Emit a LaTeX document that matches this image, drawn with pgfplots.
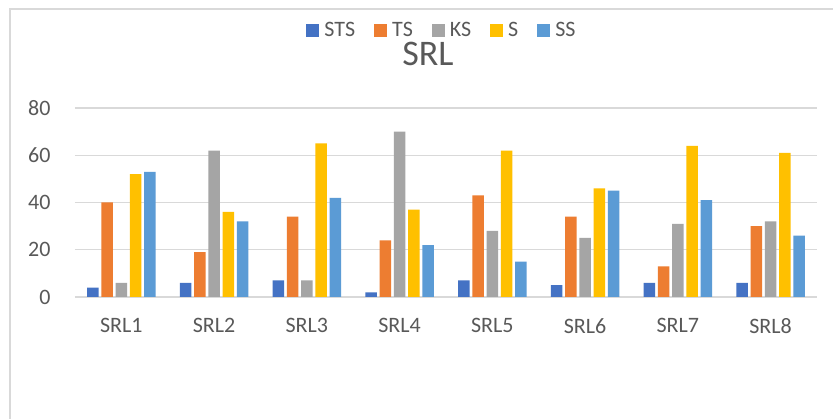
\documentclass[border=0pt]{standalone}
\usepackage{fontspec}
\setmainfont{Carlito}
\usepackage{pgfplots}
\pgfplotsset{compat=1.18}

\definecolor{cSTS}{HTML}{4472C4}
\definecolor{cTS}{HTML}{ED7D31}
\definecolor{cKS}{HTML}{A5A5A5}
\definecolor{cS}{HTML}{FFC000}
\definecolor{cSS}{HTML}{5B9BD5}
\definecolor{txt}{HTML}{595959}
\definecolor{gridc}{HTML}{D9D9D9}

\begin{document}
\begin{tikzpicture}
% canvas: 833 x 419, origin at the lower left of the plot area
\useasboundingbox (-75pt,-122pt) rectangle (758pt,297pt);
\fill[white] (-75pt,-122pt) rectangle (758pt,297pt);
\draw[gridc, line width=1.8pt] (-65pt,-122pt) -- (-65pt,288pt) -- (758pt,288pt);

\begin{axis}[
    at={(0pt,0pt)}, anchor=south west,
    scale only axis,
    width=742pt, height=189pt,
    clip=false,
    ybar=2.8pt,
    bar width=11.5pt,
    xmin=-0.5, xmax=7.5,
    ymin=0, ymax=80,
    xtick={0,1,2,3,4,5,6,7},
    xticklabels={SRL1,SRL2,SRL3,SRL4,SRL5,SRL6,SRL7,SRL8},
    ytick={0,20,40,60,80},
    ymajorgrids,
    grid style={gridc, line width=1.3pt},
    axis line style={draw=none},
    tick style={draw=none},
    major tick length=0pt,
    /pgf/number format/assume math mode=true,
    tick label style={font=\fontsize{22}{26}\selectfont, text=txt},
    xticklabel style={anchor=north, yshift=-18pt},
    yticklabel style={anchor=east, xshift=-21pt},
    legend columns=-1,
    legend image code/.code={\fill[#1] (0pt,-6.5pt) rectangle (13pt,6.5pt);},
    legend style={draw=none, fill=none, at={(0.4946,1.412)}, anchor=center,
        font=\fontsize{22}{26}\selectfont, text=txt,
        /tikz/every even column/.append style={column sep=17pt},
        /tikz/every odd column/.append style={column sep=3pt},
        inner sep=0pt},
]
\addplot[fill=cSTS, draw=none] coordinates {(0,4) (1,6) (2,7) (3,2) (4,7) (5,5) (6,6) (7,6)};
\addplot[fill=cTS, draw=none] coordinates {(0,40) (1,19) (2,34) (3,24) (4,43) (5,34) (6,13) (7,30)};
\addplot[fill=cKS, draw=none] coordinates {(0,6) (1,62) (2,7) (3,70) (4,28) (5,25) (6,31) (7,32)};
\addplot[fill=cS, draw=none] coordinates {(0,52) (1,36) (2,65) (3,37) (4,62) (5,46) (6,64) (7,61)};
\addplot[fill=cSS, draw=none] coordinates {(0,53) (1,32) (2,42) (3,22) (4,15) (5,45) (6,41) (7,26)};
\legend{STS,TS,KS,S,SS}
\node[font=\fontsize{36}{40}\selectfont, text=txt] at (rel axis cs:0.4757,1.285) {SRL};
\end{axis}
\end{tikzpicture}
\end{document}
